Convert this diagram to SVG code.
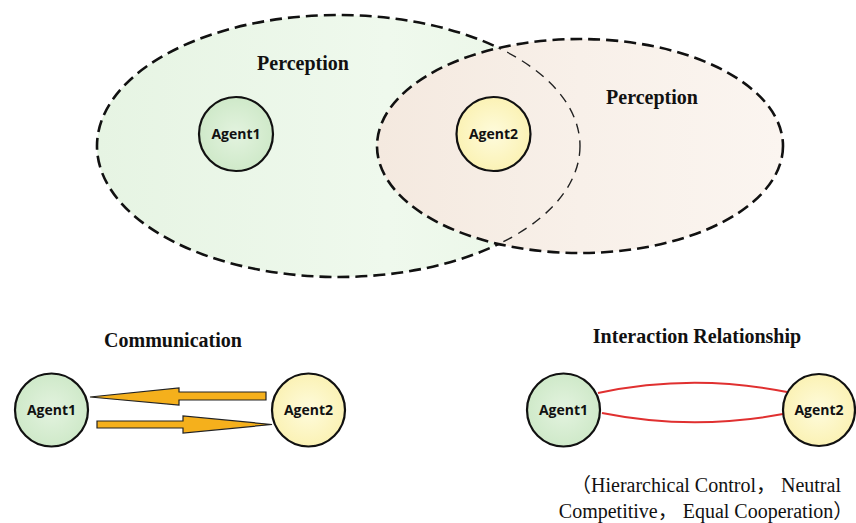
<svg xmlns="http://www.w3.org/2000/svg" width="856" height="523" viewBox="0 0 856 523">
<defs>
<linearGradient id="gGreen" x1="0" y1="0" x2="1" y2="0">
<stop offset="0" stop-color="#e6f4e3"/>
<stop offset="0.6" stop-color="#eff9ed"/>
<stop offset="1" stop-color="#eaf6e7"/>
</linearGradient>
<linearGradient id="gPeach" x1="0" y1="0" x2="1" y2="0">
<stop offset="0" stop-color="#f4e9df"/>
<stop offset="0.5" stop-color="#f8f0e9"/>
<stop offset="1" stop-color="#fbf5f0"/>
</linearGradient>
<radialGradient id="gA1" cx="0.5" cy="0.5" r="0.5">
<stop offset="0" stop-color="#e3f3df"/>
<stop offset="1" stop-color="#cfe9c9"/>
</radialGradient>
<radialGradient id="gA2" cx="0.5" cy="0.5" r="0.5">
<stop offset="0" stop-color="#fefbdc"/>
<stop offset="1" stop-color="#fbf2b5"/>
</radialGradient>
<clipPath id="peachClip"><ellipse cx="580" cy="146" rx="203" ry="107"/></clipPath>
</defs>
<style>
.dash{fill:none;stroke:#111;stroke-width:2.6;stroke-dasharray:12 6}
.dashThin{fill:none;stroke:#222;stroke-width:1.4;stroke-dasharray:10 7}
.a1{fill:url(#gA1);stroke:#111;stroke-width:2.2}
.a2{fill:url(#gA2);stroke:#111;stroke-width:2.2}
.lbl{font-family:"Open Sans","Liberation Sans",sans-serif;font-weight:bold;font-size:14px;fill:#111;text-anchor:middle}
.title{font-family:"Liberation Serif",serif;font-weight:bold;font-size:20px;fill:#111;text-anchor:middle}
.cap{font-family:"Liberation Serif","Noto Sans CJK SC",serif;font-size:20px;fill:#111;text-anchor:middle}
.arr{fill:#f5b01c;stroke:#222;stroke-width:1.2;stroke-linejoin:miter}
.rel{fill:none;stroke:#e03030;stroke-width:2}
</style>
<rect width="856" height="523" fill="#ffffff"/>
<g id="perception1">
<ellipse cx="338.5" cy="146" rx="241.5" ry="131" fill="url(#gGreen)"/>
<ellipse cx="338.5" cy="146" rx="241.5" ry="131" class="dash"/>
</g>
<g id="perception2">
<ellipse cx="580" cy="146" rx="203" ry="107" fill="url(#gPeach)"/>
<ellipse cx="580" cy="146" rx="203" ry="107" class="dash"/>
<ellipse cx="338.5" cy="146" rx="241.5" ry="131" class="dashThin" clip-path="url(#peachClip)"/>
</g>
<text class="title" x="303" y="70">Perception</text>
<text class="title" x="652" y="104">Perception</text>
<g id="agent1-top">
<circle cx="236" cy="134" r="37" class="a1"/>
<text class="lbl" x="236" y="139">Agent1</text>
</g>
<g id="agent2-top">
<circle cx="493.5" cy="134" r="37" class="a2"/>
<text class="lbl" x="493.5" y="139">Agent2</text>
</g>
<text class="title" x="173" y="347">Communication</text>
<text class="title" x="697" y="343">Interaction Relationship</text>
<g id="connectors">
<path class="arr" d="M90,397 L179,388 L179,392 L266,392 L266,400 L179,400 L179,405 Z"/>
<path class="arr" d="M97,421 L183,421 L183,416 L272,424.5 L183,433 L183,428 L97,428 Z"/>
<path class="rel" d="M598,393 Q692,373 787,392"/>
<path class="rel" d="M602,413 Q692,431 783,414"/>
</g>
<g id="agent1-comm">
<circle cx="51.5" cy="410" r="36.5" class="a1"/>
<text class="lbl" x="51.5" y="415">Agent1</text>
</g>
<g id="agent2-comm">
<circle cx="308.5" cy="410" r="36.5" class="a2"/>
<text class="lbl" x="308.5" y="415">Agent2</text>
</g>
<g id="agent1-rel">
<circle cx="563.5" cy="410" r="36.5" class="a1"/>
<text class="lbl" x="563.5" y="415">Agent1</text>
</g>
<g id="agent2-rel">
<circle cx="819" cy="410" r="36" class="a2"/>
<text class="lbl" x="819" y="415">Agent2</text>
</g>
<text class="cap" x="706" y="492">（Hierarchical Control， Neutral</text>
<text class="cap" x="706" y="518">Competitive， Equal Cooperation）</text>
</svg>
